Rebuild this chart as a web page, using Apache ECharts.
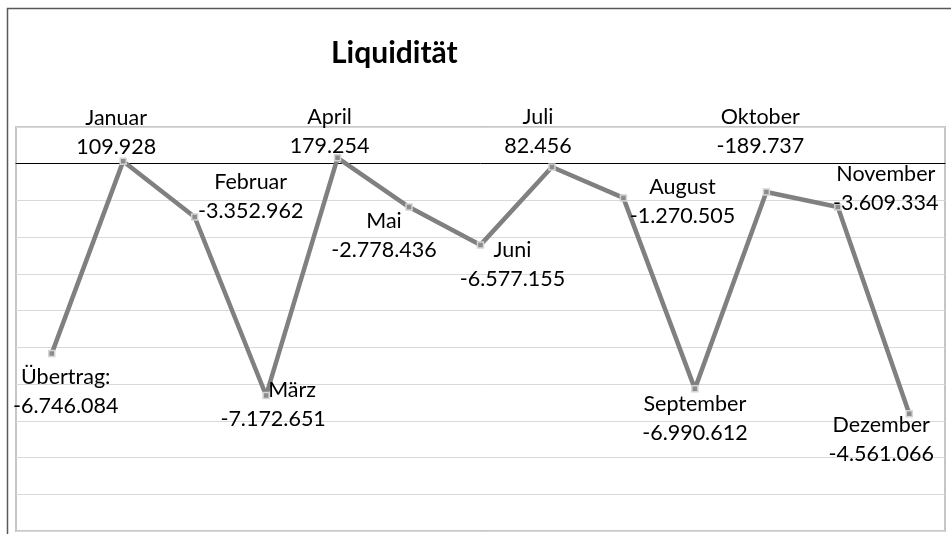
<!DOCTYPE html>
<html>
<head>
<meta charset="utf-8">
<script src="https://cdn.jsdelivr.net/npm/echarts@6/dist/echarts.min.js"></script>
<style>
html, body { margin: 0; padding: 0; background: #fff; }
#main { width: 951px; height: 534px; }
</style>
</head>
<body>
<div id="main"></div>
<script>
// Monate (Kategorien)
var monate = ['Übertrag:', 'Januar', 'Februar', 'März', 'April', 'Mai', 'Juni', 'Juli', 'August', 'September', 'Oktober', 'November', 'Dezember'];
// Lage der Punkte (in Mio.)
var werte = [-5.17, 0.07, -1.45, -6.31, 0.16, -1.18, -2.21, -0.09, -0.93, -6.13, -0.77, -1.18, -6.81];
// Beschriftungstexte
var betraege = ['-6.746.084', '109.928', '-3.352.962', '-7.172.651', '179.254', '-2.778.436', '-6.577.155', '82.456', '-1.270.505', '-6.990.612', '-189.737', '-3.609.334', '-4.561.066'];
// Achse
var yMin = -10, yMax = 1, yStep = 1;

// Versatz der Beschriftung zum Punkt
var labelOffset = [[14, 38], [-7, -29], [56, -20], [7, 9], [-8, -26], [-25, 28], [32, 20], [-14, -35], [59, 4], [0, 30], [-6, -60], [48, -19], [-28, 26]];

var myChart = echarts.init(document.getElementById('main'));
var font = 'Lato, "Liberation Sans", sans-serif';
var fs = 21.5;

var data = []
for (var i = 0; i < werte.length; i++) {
	var namePad = (i === 3) ? [0, 0, 0, 38] : 0;
	data.push({
		value : werte[i],
		label : {
			rich : {
				n : { fontSize : fs, fontFamily : font, color : '#000', lineHeight : 29, padding : namePad },
				v : { fontSize : fs, fontFamily : font, color : '#000', lineHeight : 29 }
			}
		}
	});
}

var option = {
	animation : false,
	backgroundColor : '#fff',
	title : {
		text : 'Liquidität',
		left : 326,
		top : 33,
		textStyle : {
			fontFamily : font,
			fontSize : 30,
			fontWeight : 'bold',
			color : '#000'
		}
	},
	graphic : [ {
		type : 'polyline',
		shape : { points : [[7.5, 534], [7.5, 8.5], [951, 8.5]] },
		style : { stroke : '#595959', lineWidth : 1.5, fill : null }
	} ],
	grid : {
		left : 16,
		right : 6,
		top : 127,
		bottom : 3,
		show : true,
		borderColor : '#c6c6c6',
		borderWidth : 2,
		backgroundColor : 'transparent'
	},
	xAxis : {
		type : 'category',
		data : monate,
		boundaryGap : true,
		axisLine : { show : true, onZero : true, lineStyle : { color : '#000', width : 1 } },
		axisTick : { show : false },
		axisLabel : { show : false },
		splitLine : { show : false }
	},
	yAxis : {
		type : 'value',
		min : yMin,
		max : yMax,
		interval : yStep,
		axisLine : { show : false },
		axisTick : { show : false },
		axisLabel : { show : false },
		splitLine : { show : true, lineStyle : { color : '#d9d9d9', width : 1 } }
	},
	series : [ {
		type : 'line',
		data : data,
		symbol : 'rect',
		symbolSize : 6,
		lineStyle : { color : '#808080', width : 4.5 },
		itemStyle : { color : '#8c8c8c', borderColor : '#d4d4d4', borderWidth : 1.5 },
		label : {
			show : true,
			position : 'inside',
			align : 'center',
			verticalAlign : 'middle',
			formatter : function(p) {
				return '{n|' + monate[p.dataIndex] + '}\n{v|' + betraege[p.dataIndex] + '}';
			}
		},
		labelLayout : function(params) {
			var o = labelOffset[params.dataIndex];
			return { dx : o[0], dy : o[1], hideOverlap : false };
		},
		z : 3
	} ]
};
myChart.setOption(option);
</script>
</body>
</html>
